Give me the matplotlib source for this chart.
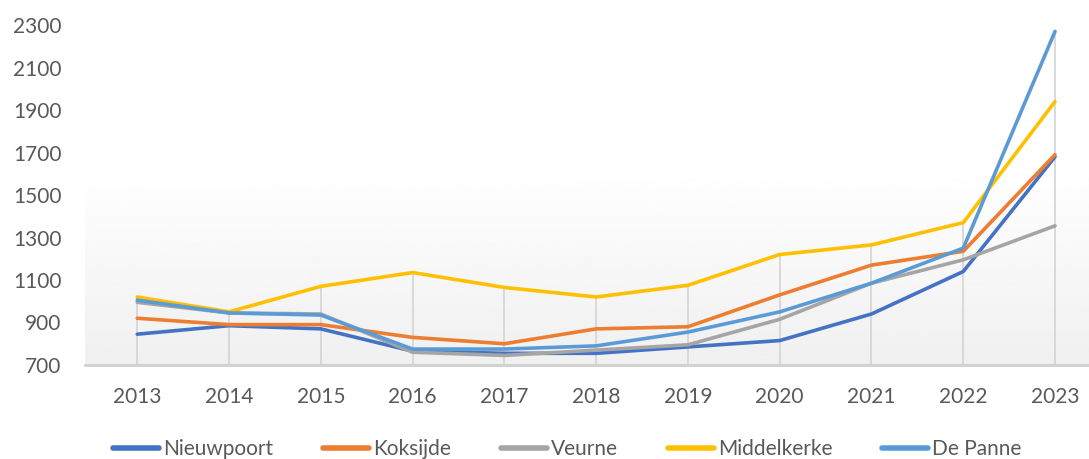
import numpy as np
import matplotlib.pyplot as plt

years = [2013, 2014, 2015, 2016, 2017, 2018, 2019, 2020, 2021, 2022, 2023]
nieuwpoort = [845, 885, 870, 765, 755, 755, 785, 815, 940, 1140, 1680]
koksijde = [920, 890, 890, 830, 800, 870, 880, 1030, 1170, 1235, 1690]
veurne = [995, 945, 940, 760, 745, 770, 795, 915, 1085, 1195, 1355]
middelkerke = [1020, 950, 1070, 1135, 1065, 1020, 1075, 1220, 1265, 1370, 1940]
de_panne = [1005, 945, 935, 775, 775, 790, 855, 950, 1085, 1250, 2270]

series = [
    ("Nieuwpoort", nieuwpoort, "#4472C4"),
    ("Koksijde", koksijde, "#ED7D31"),
    ("Veurne", veurne, "#A5A5A5"),
    ("Middelkerke", middelkerke, "#FFC000"),
    ("De Panne", de_panne, "#5B9BD5"),
]

plt.rcParams['font.family'] = ['Lato', 'DejaVu Sans']

fig = plt.figure(figsize=(10.89, 4.59), dpi=100)
ax = fig.add_axes([0.078, 0.2048, 0.922, 0.7407])
ax.set_xlim(2012.43, 2023.37)
ax.set_ylim(700, 2300)

# soft grey gradient in the lower part of the plot area
grad = np.linspace(0, 1, 200).reshape(-1, 1)
grad = np.where(grad < 0.59, 0.94 + 0.06 * grad / 0.59, 1.0)
ax.imshow(grad, extent=(2012.43, 2023.37, 700, 2300), origin='lower',
          cmap='gray', vmin=0, vmax=1, aspect='auto', zorder=0)

# drop lines
tops = np.max([nieuwpoort, koksijde, veurne, middelkerke, de_panne], axis=0)
ax.vlines(years, 700, tops, color="#d4d4d4", lw=1.2, zorder=1)

for name, vals, col in series:
    ax.plot(years, vals, color=col, lw=2.6, label=name, zorder=3,
            solid_joinstyle='round', solid_capstyle='round')

for s in ['top', 'right', 'left']:
    ax.spines[s].set_visible(False)
ax.spines['bottom'].set_color('#d0d0d0')
ax.spines['bottom'].set_linewidth(2)

ax.set_xticks(years)
ax.set_yticks(range(700, 2301, 200))
ax.tick_params(axis='both', length=0, labelsize=15, colors='#595959')
ax.tick_params(axis='y', pad=17)
ax.tick_params(axis='x', pad=16)

fig.legend(loc='center', bbox_to_anchor=(0.521, 0.022), ncol=5, frameon=False,
           fontsize=15, handlelength=2.2, handletextpad=0.2, columnspacing=2.4,
           labelcolor='#595959')
for line in fig.legends[0].get_lines():
    line.set_linewidth(4)

fig.savefig("out.png", dpi=100)
